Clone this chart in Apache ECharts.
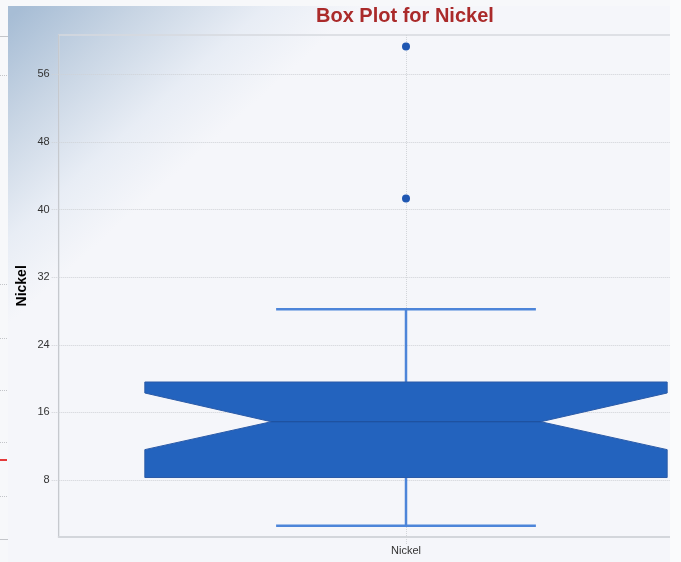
<!DOCTYPE html>
<html><head><meta charset="utf-8">
<script src="https://cdn.jsdelivr.net/npm/echarts@6/dist/echarts.min.js"></script>
<style>html,body{margin:0;padding:0;background:#f7f8fa;}#c{width:681px;height:562px;}</style>
</head><body><div id="c"></div>
<script>
const categories = ['Nickel'];
// min, q1, notchLow, median, notchHigh, q3, max
const boxStats = [[2.6, 8.3, 11.6, 14.9, 18.3, 19.6, 28.2]];
const outliers = [59.3, 41.3];
const yTicks = [8, 16, 24, 32, 40, 48, 56];
const yMin = 1.3, yMax = 60.65;

const chart = echarts.init(document.getElementById('c'), null, {renderer: 'canvas'});

function renderBox(params, api) {
  const xi = api.value(0);
  const y = v => api.coord([xi, v])[1];
  const band = api.size([1, 0])[0];
  const cs = params.coordSys;
  const cx = api.coord([xi, api.value(4)])[0];
  const hw = band * 0.376, cap = band * 0.187, inset = band * 0.182;
  const yLo = y(api.value(1)), yQ1 = y(api.value(2)), yNL = y(api.value(3)),
        yMed = y(api.value(4)), yNH = y(api.value(5)), yQ3 = y(api.value(6)), yHi = y(api.value(7));
  const wStyle = {stroke: '#4d85d9', lineWidth: 2.5};
  return {type: 'group', children: [
    {type: 'line', shape: {x1: Math.round(cx) + 0.5, y1: cs.y, x2: Math.round(cx) + 0.5, y2: cs.y + cs.height + 8},
      style: {stroke: '#d2d5d9', lineWidth: 1, lineDash: [1, 1]}},
    {type: 'line', shape: {x1: cx, y1: yQ3, x2: cx, y2: yHi}, style: wStyle},
    {type: 'line', shape: {x1: cx - cap, y1: yHi, x2: cx + cap, y2: yHi}, style: wStyle},
    {type: 'line', shape: {x1: cx, y1: yQ1, x2: cx, y2: yLo}, style: wStyle},
    {type: 'line', shape: {x1: cx - cap, y1: yLo, x2: cx + cap, y2: yLo}, style: wStyle},
    {type: 'polygon', shape: {points: [
      [cx - hw, yQ3], [cx + hw, yQ3], [cx + hw, yNH], [cx + hw - inset, yMed], [cx + hw, yNL],
      [cx + hw, yQ1], [cx - hw, yQ1], [cx - hw, yNL], [cx - hw + inset, yMed], [cx - hw, yNH]
    ]}, style: {fill: '#2363be', stroke: '#2b5ba8', lineWidth: 1}},
    {type: 'line', shape: {x1: cx - hw + inset, y1: yMed, x2: cx + hw - inset, y2: yMed},
      style: {stroke: '#1d4e98', lineWidth: 1}}
  ]};
}

const stripLines = [];
[75, 284, 338, 390, 442, 496].forEach(v => stripLines.push({type: 'line', shape: {x1: 0, y1: v + 0.5, x2: 8, y2: v + 0.5}, style: {stroke: '#c3c5c9', lineWidth: 1, lineDash: [1, 1]}, z: 100}));
[36, 539].forEach(v => stripLines.push({type: 'line', shape: {x1: 0, y1: v + 0.5, x2: 8, y2: v + 0.5}, style: {stroke: '#c4c6ca', lineWidth: 1}, z: 100}));
stripLines.push({type: 'line', shape: {x1: 0, y1: 460, x2: 7, y2: 460}, style: {stroke: '#e43a3a', lineWidth: 2}, z: 100});

chart.setOption({
  backgroundColor: '#f7f8fa',
  animation: false,
  graphic: [
    {type: 'rect', left: 8, top: 6, shape: {width: 662, height: 556}, z: -10, silent: true,
      style: {fill: {type: 'linear', x: 8, y: 6, x2: 160, y2: 175, global: true, colorStops: [
        {offset: 0, color: '#a7bdd5'}, {offset: 0.35, color: '#c8d5e4'}, {offset: 0.72, color: '#e8edf5'}, {offset: 1, color: '#f5f6fa'}
      ]}}},
    {type: 'rect', left: 670, top: 0, shape: {width: 11, height: 562}, z: 100, style: {fill: '#fafbfc'}},
    ...stripLines
  ],
  title: {text: 'Box Plot for Nickel', left: 316, top: 6, padding: 0,
    textStyle: {color: '#aa2a2a', fontSize: 20, fontWeight: 'bold', fontFamily: 'Liberation Sans, Arial, sans-serif'}},
  grid: {left: 58.7, top: 35, width: 694.6, bottom: 25.3, outerBoundsMode: 'none', containLabel: false,
    show: true, borderColor: '#d6d9de', borderWidth: 1.5, backgroundColor: 'transparent'},
  xAxis: {type: 'category', data: categories, boundaryGap: true,
    axisLine: {lineStyle: {color: '#d3d6db', width: 2}},
    axisTick: {show: false},
    axisLabel: {color: '#333', fontSize: 11, margin: 9, fontFamily: 'Liberation Sans, Arial, sans-serif'},
    splitLine: {show: false}},
  yAxis: {type: 'value', min: yMin, max: yMax, name: 'Nickel', nameLocation: 'middle', nameGap: 30, nameMoveOverlap: false,
    nameTextStyle: {color: '#000', fontSize: 14, fontWeight: 'bold', fontFamily: 'Liberation Sans, Arial, sans-serif'},
    axisLine: {show: true, lineStyle: {color: '#c6c9ce', width: 1}},
    axisTick: {show: true, length: 8, customValues: yTicks, lineStyle: {color: '#cfd2d6', type: 'dotted'}},
    axisLabel: {customValues: yTicks, color: '#333', fontSize: 11, margin: 9, fontFamily: 'Liberation Sans, Arial, sans-serif'},
    splitLine: {show: true, lineStyle: {color: '#cfd2d6', type: 'dotted', width: 1}}},
  series: [
    {type: 'custom', renderItem: renderBox, data: boxStats.map((s, i) => [i, ...s]),
      encode: {x: 0, y: [1, 2, 3, 4, 5, 6, 7]}, z: 3},
    {type: 'scatter', data: outliers.map(v => [categories[0], v]), symbolSize: 8,
      itemStyle: {color: '#1f57b2', opacity: 1}, z: 4}
  ]
});
</script></body></html>
